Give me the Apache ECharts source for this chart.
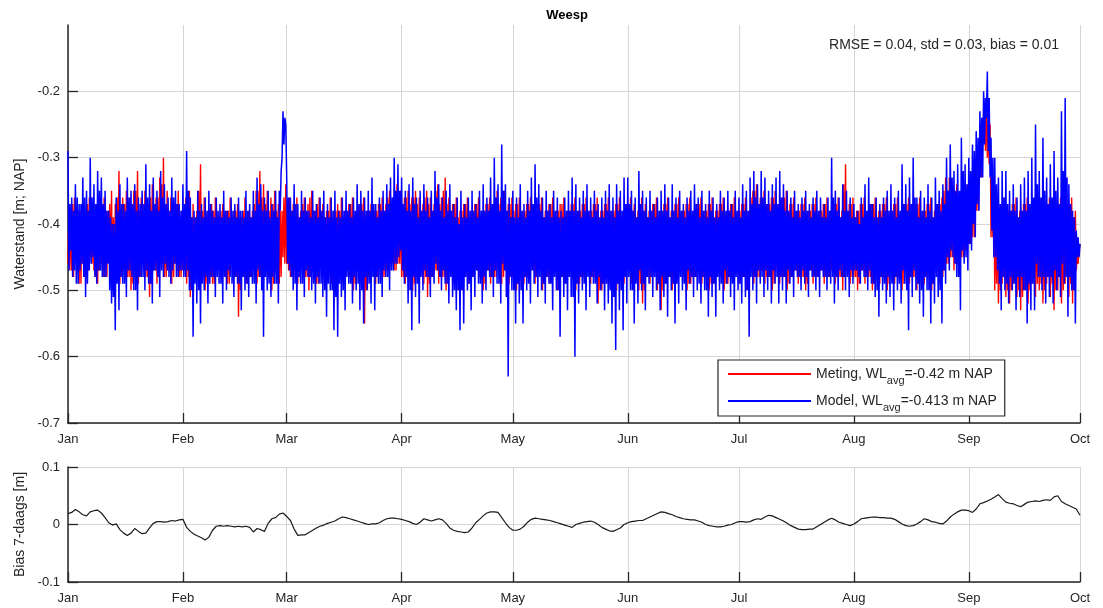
<!DOCTYPE html>
<html><head><meta charset="utf-8">
<script src="https://cdn.jsdelivr.net/npm/echarts@6/dist/echarts.min.js"></script>
<style>html,body{margin:0;padding:0;background:#fff}#c{width:1103px;height:608px}</style>
</head><body><div id="c"></div>
<script>
// ---------- data ----------
const monthLabels = ['Jan','Feb','Mar','Apr','May','Jun','Jul','Aug','Sep','Oct'];
const monthStartDays = [0,31,59,90,120,151,181,212,243,273];
const samplesPerDay = 4;           // water levels: four readings per day
const waterTicks = [-0.7,-0.6,-0.5,-0.4,-0.3,-0.2];
const biasTicks = [-0.1,0,0.1];
const metingAvg = -0.42;
const modelAvg = -0.413;
const statRMSE = '0.04', statStd = '0.03', statBias = '0.01';

// Meting (measured) water level, cm NAP: daily low / high readings
const metingCm = [
-46,-38,-47,-36,-45,-38,-49,-37,-46,-39,-48,-36,-45,-38,-47,-37,-49,-39,-46,-36,
-48,-38,-45,-35,-50,-37,-47,-32,-49,-36,-46,-35,-48,-36,-50,-35,-47,-32,-49,-36,
-46,-35,-48,-37,-51,-34,-47,-36,-49,-33,-46,-30,-48,-35,-47,-36,-49,-37,-46,-35,
-48,-38,-47,-36,-49,-35,-51,-37,-48,-38,-46,-31,-48,-36,-50,-38,-47,-37,-49,-36,
-46,-39,-48,-37,-47,-38,-49,-36,-46,-38,-48,-37,-54,-39,-47,-36,-49,-38,-48,-38,
-47,-35,-49,-32,-48,-34,-46,-35,-48,-36,-50,-35,-47,-37,-49,-38,-45,-34,-46,-36,
-48,-37,-47,-36,-49,-38,-46,-36,-48,-37,-50,-35,-47,-38,-49,-36,-46,-37,-48,-38,
-47,-36,-49,-38,-48,-37,-47,-36,-49,-38,-46,-37,-48,-36,-50,-38,-47,-37,-49,-36,
-55,-38,-48,-37,-47,-38,-49,-37,-46,-36,-48,-37,-47,-35,-45,-36,-47,-34,-46,-35,
-48,-36,-49,-35,-47,-36,-50,-35,-48,-36,-47,-37,-49,-35,-51,-36,-48,-37,-47,-34,
-49,-36,-48,-33,-50,-36,-47,-37,-49,-36,-48,-38,-50,-37,-47,-36,-49,-38,-48,-37,
-46,-36,-48,-38,-50,-37,-47,-36,-49,-37,-48,-35,-46,-36,-49,-35,-47,-37,-49,-36,
-48,-37,-50,-36,-47,-38,-49,-37,-48,-36,-46,-38,-49,-37,-47,-36,-50,-38,-48,-37,
-49,-36,-47,-38,-50,-37,-48,-36,-49,-38,-47,-37,-48,-36,-50,-38,-49,-37,-48,-36,
-47,-38,-49,-37,-48,-36,-52,-38,-50,-37,-48,-36,-49,-38,-47,-37,-50,-36,-48,-38,
-49,-37,-47,-36,-49,-37,-48,-38,-50,-36,-52,-37,-48,-38,-49,-37,-47,-36,-50,-38,
-53,-37,-49,-36,-48,-38,-50,-37,-49,-36,-47,-38,-48,-37,-50,-36,-49,-38,-48,-37,
-47,-36,-49,-38,-48,-37,-50,-36,-49,-38,-47,-37,-48,-36,-50,-38,-49,-37,-48,-36,
-47,-38,-49,-37,-48,-36,-50,-38,-47,-35,-49,-34,-48,-36,-47,-35,-49,-37,-48,-36,
-50,-35,-47,-37,-49,-36,-48,-35,-50,-37,-48,-36,-47,-38,-49,-37,-48,-36,-50,-38,
-47,-37,-49,-36,-48,-38,-47,-37,-49,-36,-48,-38,-47,-37,-49,-36,-48,-38,-50,-31,
-47,-37,-49,-36,-48,-38,-50,-37,-47,-36,-49,-38,-48,-37,-50,-36,-47,-38,-49,-37,
-48,-36,-50,-38,-47,-37,-49,-36,-48,-38,-50,-37,-47,-36,-49,-38,-48,-37,-50,-36,
-47,-38,-49,-37,-48,-36,-50,-38,-47,-37,-49,-36,-48,-33,-46,-33,-45,-35,-47,-34,
-46,-36,-45,-35,-44,-34,-43,-33,-42,-31,-38,-28,-33,-24,-28,-21,-30,-25,-42,-33,
-50,-38,-52,-37,-49,-36,-51,-38,-52,-37,-49,-36,-51,-38,-53,-37,-50,-36,-52,-38,
-49,-37,-51,-36,-50,-38,-52,-37,-49,-36,-51,-38,-53,-37,-50,-36,-52,-38,-49,-37,
-51,-36,-52,-38,-47,-44,-43
];
// Meting: intermediate readings inside the dense band (high, low per day)
const metingMidCm = [
-38,-47,-37,-48,-39,-47,-38,-49,-39,-48,-37,-47,-38,-46,-39,-48,-38,-47,-37,-48,
-38,-48,-37,-47,-39,-49,-36,-47,-38,-48,-37,-47,-38,-48,-37,-49,-35,-47,-38,-48,
-37,-47,-38,-48,-36,-49,-38,-47,-36,-48,-34,-46,-37,-48,-38,-47,-38,-48,-37,-47,
-39,-48,-38,-47,-37,-48,-39,-49,-39,-48,-35,-47,-38,-48,-39,-49,-38,-48,-38,-49,
-39,-47,-38,-48,-39,-48,-38,-49,-39,-47,-38,-48,-40,-50,-38,-48,-39,-49,-39,-48,
-37,-47,-35,-48,-36,-47,-37,-46,-38,-48,-37,-49,-38,-47,-38,-48,-36,-46,-37,-47,
-38,-48,-37,-47,-39,-48,-37,-47,-38,-48,-36,-48,-38,-47,-37,-49,-38,-47,-39,-48,
-38,-47,-39,-48,-38,-48,-38,-47,-39,-49,-38,-47,-37,-48,-39,-49,-38,-48,-37,-49,
-39,-50,-38,-48,-39,-47,-38,-48,-37,-47,-38,-48,-36,-47,-37,-46,-35,-47,-36,-46,
-37,-48,-36,-48,-37,-47,-36,-49,-37,-48,-38,-47,-36,-48,-37,-49,-38,-48,-35,-47,
-37,-48,-35,-48,-37,-49,-38,-47,-37,-48,-39,-48,-38,-49,-37,-47,-39,-48,-38,-48,
-37,-47,-39,-48,-38,-49,-37,-47,-38,-48,-36,-48,-37,-47,-36,-48,-38,-47,-37,-48,
-38,-48,-37,-49,-39,-47,-38,-48,-37,-48,-39,-47,-38,-48,-37,-47,-39,-49,-38,-48,
-37,-48,-39,-47,-38,-49,-37,-48,-39,-48,-38,-47,-37,-48,-39,-49,-38,-48,-37,-48,
-39,-47,-38,-48,-37,-48,-39,-50,-38,-49,-37,-48,-39,-48,-38,-47,-37,-49,-39,-48,
-38,-48,-37,-47,-38,-48,-39,-48,-37,-49,-38,-50,-39,-48,-38,-48,-37,-47,-39,-49,
-38,-50,-37,-48,-39,-48,-38,-49,-37,-48,-39,-47,-38,-48,-37,-49,-39,-48,-38,-48,
-37,-47,-39,-48,-38,-48,-37,-49,-39,-48,-38,-47,-37,-48,-39,-49,-38,-48,-37,-48,
-39,-47,-38,-48,-37,-48,-39,-49,-36,-47,-35,-48,-37,-48,-36,-47,-38,-48,-37,-48,
-36,-49,-38,-47,-37,-48,-36,-48,-38,-49,-37,-48,-39,-47,-38,-48,-37,-48,-39,-49,
-38,-47,-37,-48,-39,-48,-38,-47,-37,-48,-39,-48,-38,-47,-37,-48,-39,-48,-34,-48,
-38,-47,-37,-48,-39,-48,-38,-49,-37,-47,-39,-48,-38,-48,-37,-49,-39,-47,-38,-48,
-37,-48,-39,-49,-38,-47,-37,-48,-39,-48,-38,-49,-37,-47,-39,-48,-38,-48,-37,-49,
-39,-47,-38,-48,-37,-48,-39,-49,-38,-47,-37,-48,-35,-47,-35,-46,-36,-45,-35,-46,
-37,-46,-36,-45,-35,-44,-34,-43,-32,-42,-29,-38,-25,-33,-22,-29,-25,-31,-34,-42,
-39,-49,-38,-50,-37,-48,-39,-50,-38,-50,-37,-48,-39,-50,-38,-51,-37,-49,-39,-50,
-38,-48,-37,-49,-39,-49,-38,-50,-37,-48,-39,-49,-38,-50,-37,-48,-39,-50,-38,-48,
-37,-49,-39,-50,-45,-46
];

// Model water level, cm NAP: daily high / low readings
const modelCm = [
-29,-44,-36,-47,-34,-49,-37,-46,-33,-51,-35,-47,-30,-45,-34,-49,-32,-47,-33,-48,
-35,-46,-38,-52,-40,-56,-36,-53,-34,-49,-37,-51,-33,-47,-35,-50,-34,-53,-36,-48,
-35,-50,-31,-49,-34,-52,-33,-47,-35,-51,-32,-48,-34,-47,-36,-49,-33,-46,-35,-48,
-37,-47,-34,-48,-29,-50,-36,-57,-38,-52,-35,-55,-37,-50,-36,-52,-35,-48,-38,-51,
-36,-49,-37,-52,-35,-50,-38,-48,-36,-51,-37,-49,-36,-53,-38,-50,-35,-51,-37,-49,
-35,-52,-33,-48,-34,-57,-36,-50,-35,-51,-37,-49,-35,-52,-35,-30,-23,-25,-33,-47,
-36,-50,-34,-53,-37,-49,-35,-51,-36,-48,-38,-50,-35,-52,-37,-49,-36,-51,-35,-54,
-37,-50,-36,-56,-35,-57,-38,-51,-36,-53,-35,-49,-37,-52,-36,-50,-34,-53,-35,-55,
-36,-50,-35,-52,-33,-53,-37,-49,-36,-51,-35,-48,-34,-50,-33,-47,-30,-46,-31,-44,
-33,-49,-35,-52,-34,-56,-33,-51,-36,-55,-35,-50,-34,-48,-36,-51,-35,-49,-32,-47,
-34,-50,-36,-49,-35,-52,-34,-51,-37,-53,-36,-56,-35,-55,-37,-50,-36,-53,-35,-51,
-37,-49,-35,-52,-34,-50,-36,-48,-33,-51,-30,-49,-34,-52,-28,-47,-34,-63,-36,-50,
-35,-55,-36,-52,-34,-55,-37,-50,-35,-52,-33,-49,-31,-51,-34,-50,-36,-52,-35,-49,
-37,-53,-35,-50,-36,-57,-38,-51,-36,-53,-35,-51,-33,-60,-34,-52,-36,-50,-35,-53,
-34,-51,-36,-49,-35,-52,-37,-50,-36,-53,-35,-52,-34,-55,-36,-59,-34,-53,-35,-56,
-33,-52,-33,-50,-35,-55,-36,-52,-32,-50,-35,-53,-36,-49,-35,-51,-37,-50,-36,-53,
-35,-51,-34,-54,-36,-50,-34,-55,-36,-52,-35,-50,-37,-53,-36,-49,-35,-51,-34,-50,
-36,-52,-35,-50,-37,-54,-35,-51,-36,-54,-37,-50,-35,-52,-36,-49,-35,-51,-37,-53,
-35,-50,-36,-52,-34,-51,-35,-57,-33,-50,-32,-52,-34,-49,-32,-51,-33,-50,-35,-52,
-34,-49,-33,-52,-32,-50,-34,-52,-35,-49,-36,-51,-35,-48,-37,-50,-36,-49,-35,-51,
-37,-48,-36,-50,-35,-51,-36,-48,-37,-50,-36,-49,-30,-52,-35,-50,-36,-48,-34,-50,
-35,-51,-36,-49,-37,-47,-38,-49,-36,-48,-34,-50,-33,-49,-37,-51,-36,-54,-37,-50,
-36,-52,-35,-51,-34,-53,-36,-50,-35,-52,-31,-49,-34,-56,-33,-51,-30,-50,-36,-52,
-35,-54,-36,-50,-34,-55,-36,-52,-33,-51,-35,-55,-34,-49,-30,-47,-28,-45,-32,-48,
-31,-53,-27,-46,-31,-47,-30,-44,-28,-42,-26,-38,-23,-33,-20,-24,-17,-33,-27,-45,
-30,-47,-33,-53,-32,-50,-32,-52,-35,-50,-34,-53,-36,-51,-34,-50,-33,-55,-32,-53,
-30,-53,-25,-48,-32,-50,-27,-52,-33,-51,-31,-52,-29,-50,-33,-51,-23,-49,-21,-54,
-34,-50,-38,-55,-41,-45,-43
];
// Model: intermediate readings inside the dense band (low, high per day)
const modelMidCm = [
-47,-37,-48,-38,-49,-36,-47,-37,-48,-36,-49,-38,-46,-36,-48,-37,-47,-35,-48,-37,
-48,-38,-50,-39,-51,-40,-49,-38,-48,-37,-49,-38,-47,-36,-48,-37,-50,-38,-48,-37,
-48,-37,-47,-36,-49,-38,-47,-37,-48,-38,-47,-36,-46,-37,-48,-38,-47,-36,-48,-37,
-47,-38,-48,-37,-47,-35,-50,-39,-49,-39,-50,-38,-49,-39,-48,-38,-49,-37,-48,-39,
-48,-38,-49,-39,-48,-38,-47,-39,-49,-38,-48,-39,-49,-38,-48,-39,-49,-38,-48,-39,
-49,-38,-47,-37,-50,-38,-48,-38,-49,-39,-48,-38,-49,-39,-38,-32,-28,-24,-46,-36,
-48,-38,-49,-37,-48,-39,-49,-38,-47,-38,-48,-39,-49,-38,-48,-39,-49,-38,-50,-39,
-49,-39,-50,-38,-51,-39,-49,-39,-50,-38,-48,-38,-49,-39,-48,-38,-49,-37,-50,-38,
-48,-38,-49,-38,-48,-37,-48,-39,-49,-38,-47,-38,-48,-37,-47,-36,-46,-35,-45,-35,
-47,-37,-48,-38,-50,-38,-48,-37,-49,-39,-48,-38,-47,-38,-48,-39,-48,-38,-46,-36,
-48,-38,-47,-39,-49,-38,-48,-38,-50,-39,-50,-40,-50,-39,-48,-39,-49,-38,-48,-38,
-47,-39,-49,-38,-48,-38,-47,-38,-48,-37,-47,-36,-49,-38,-46,-35,-51,-38,-48,-39,
-50,-39,-49,-39,-50,-38,-48,-39,-49,-38,-47,-37,-48,-36,-48,-38,-49,-39,-48,-38,
-49,-39,-48,-38,-50,-39,-48,-39,-49,-38,-48,-38,-51,-38,-49,-38,-48,-39,-49,-38,
-48,-38,-48,-39,-49,-38,-48,-39,-49,-39,-49,-38,-50,-38,-51,-39,-49,-38,-50,-38,
-48,-37,-48,-37,-50,-38,-49,-39,-47,-37,-49,-38,-48,-39,-48,-38,-48,-39,-49,-38,
-48,-38,-49,-38,-48,-39,-49,-38,-49,-39,-48,-38,-49,-39,-47,-38,-48,-38,-48,-37,
-49,-39,-48,-38,-50,-39,-48,-38,-49,-39,-48,-39,-49,-38,-47,-38,-48,-38,-49,-39,
-48,-38,-49,-39,-48,-38,-50,-38,-48,-37,-48,-36,-47,-37,-48,-36,-47,-37,-48,-38,
-47,-37,-48,-37,-48,-36,-48,-38,-47,-38,-48,-39,-47,-38,-48,-39,-47,-38,-48,-38,
-47,-39,-48,-38,-48,-38,-47,-39,-48,-39,-48,-38,-48,-36,-48,-38,-47,-39,-48,-38,
-48,-38,-47,-39,-47,-39,-48,-40,-47,-39,-48,-38,-47,-37,-49,-39,-50,-39,-48,-39,
-49,-38,-48,-38,-49,-38,-48,-39,-49,-38,-47,-37,-50,-38,-48,-37,-47,-36,-49,-39,
-50,-38,-48,-39,-50,-38,-49,-39,-48,-37,-50,-38,-47,-37,-45,-35,-44,-33,-46,-35,
-48,-35,-44,-32,-45,-34,-43,-32,-40,-29,-37,-27,-33,-24,-28,-21,-29,-21,-41,-30,
-45,-34,-49,-37,-48,-36,-49,-37,-48,-38,-49,-38,-48,-39,-48,-38,-50,-38,-49,-37,
-49,-36,-46,-34,-48,-36,-48,-35,-48,-37,-48,-36,-47,-35,-48,-37,-46,-32,-48,-33,
-48,-37,-50,-39,-45,-42
];

// 7-day running bias, thousandths of a metre, one value per day
const bias7dMilli = [
19,21,26,22,17,15,22,24,25,20,
12,3,-1,1,-9,-15,-19,-15,-7,-12,
-16,-15,-6,2,5,5,4,5,7,6,
8,9,-5,-12,-17,-20,-23,-27,-22,-10,
-3,-2,-3,-2,-3,-4,-3,-4,-3,-5,
-13,-7,-9,-12,2,10,12,18,20,14,
7,-8,-19,-18,-18,-14,-10,-6,-3,-1,
2,4,6,10,13,12,10,8,6,4,
2,0,1,1,3,7,10,11,11,10,
9,7,5,2,0,4,10,8,6,8,
10,8,2,-6,-10,-12,-13,-14,-13,-6,
3,9,15,20,22,22,21,12,3,-5,
-10,-10,-8,-3,4,9,11,10,9,8,
7,5,3,1,-1,-3,-5,0,2,4,
5,6,4,0,-5,-8,-11,-12,-9,-6,
0,3,5,6,7,7,10,13,16,19,
22,21,19,17,14,12,10,9,8,8,
6,4,0,-2,-3,-4,-4,-3,-1,0,
3,5,5,4,5,8,10,9,13,16,
15,12,9,6,2,-2,-5,-8,-9,-9,
-8,-8,-4,0,4,8,11,8,4,2,
0,-2,1,5,10,11,12,13,13,12,
12,11,11,9,5,1,-2,-3,-2,1,
5,10,8,5,4,2,1,6,13,18,
22,25,25,24,21,27,36,38,41,44,
48,52,45,39,37,36,33,31,35,39,
40,41,40,42,43,42,48,50,40,36,
33,30,27,16
];

// ---------- chart ----------
const FONT = "'Liberation Sans', Arial, Helvetica, sans-serif";
const INK = '#262626';
const GRIDC = '#d6d6d6';

// merge per-day readings in time order: outer[0], mid[0], mid[1], outer[1]
function mergeReadings(outer, mid) {
  const out = [];
  const days = mid.length / 2;
  for (let d = 0; d < days; d++) out.push(outer[2 * d], mid[2 * d], mid[2 * d + 1], outer[2 * d + 1]);
  out.push(outer[2 * days]);
  return out;
}
const toSeries = (arr, perDay, scale) => arr.map((v, i) => [i / perDay, v / scale]);
const metingData = toSeries(mergeReadings(metingCm, metingMidCm), samplesPerDay, 100);
const modelData = toSeries(mergeReadings(modelCm, modelMidCm), samplesPerDay, 100);
const biasData = toSeries(bias7dMilli, 1, 1000);
const avgByName = { 'Meting': metingAvg, 'Model': modelAvg };

function xAxisCfg(gridIndex) {
  return {
    type: 'value', gridIndex, min: monthStartDays[0], max: monthStartDays[monthStartDays.length - 1],
    axisLine: { show: true, onZero: false, lineStyle: { color: INK, width: 1.5 } },
    axisTick: { show: true, inside: true, length: 10, customValues: monthStartDays, lineStyle: { color: INK, width: 1.3 } },
    axisLabel: { customValues: monthStartDays, formatter: v => monthLabels[monthStartDays.indexOf(v)],
      color: INK, fontSize: 13, fontFamily: FONT, margin: 10 },
    splitLine: { show: true, lineStyle: { color: GRIDC, width: 1 } }
  };
}
function yAxisCfg(gridIndex, min, max, ticks, name) {
  return {
    type: 'value', gridIndex, min, max,
    name, nameLocation: 'middle', nameGap: 40,
    nameTextStyle: { color: INK, fontSize: 14, fontFamily: FONT },
    axisLine: { show: true, onZero: false, lineStyle: { color: INK, width: 1.5 } },
    axisTick: { show: true, inside: true, length: 10, customValues: ticks, lineStyle: { color: INK, width: 1.3 } },
    axisLabel: { customValues: ticks, color: INK, fontSize: 13, fontFamily: FONT, margin: 8 },
    splitLine: { show: true, lineStyle: { color: GRIDC, width: 1 } }
  };
}

const chart = echarts.init(document.getElementById('c'), null, { renderer: 'canvas' });
chart.setOption({
  animation: false,
  backgroundColor: '#fff',
  textStyle: { fontFamily: FONT },
  grid: [
    { left: 68, top: 25, width: 1012, height: 398 },
    { left: 68, top: 467, width: 1012, height: 115 }
  ],
  xAxis: [xAxisCfg(0), xAxisCfg(1)],
  yAxis: [
    yAxisCfg(0, -0.7, -0.1, waterTicks, 'Waterstand [m; NAP]'),
    yAxisCfg(1, -0.1, 0.1, biasTicks, 'Bias 7-daags [m]')
  ],
  legend: {
    data: ['Meting', 'Model'],
    orient: 'vertical', left: 718, top: 360,
    selectedMode: false,
    backgroundColor: '#fff', borderColor: INK, borderWidth: 1.2,
    padding: [2, 8, 3, 10], itemGap: 3,
    icon: 'rect', itemWidth: 83, itemHeight: 2,
    formatter: name => name + ', WL{sub|avg}=' + avgByName[name] + ' m NAP',
    textStyle: { color: INK, fontSize: 14, fontFamily: FONT, lineHeight: 24,
      rich: { sub: { fontSize: 11, lineHeight: 12, verticalAlign: 'bottom', color: INK, fontFamily: FONT } } }
  },
  graphic: [
    { type: 'text', x: 567, y: 15, z: 100, style: { text: 'Weesp', align: 'center', verticalAlign: 'middle',
      font: 'bold 13px ' + FONT, fill: '#000' } },
    { type: 'text', x: 1059, y: 45, z: 100, style: { text: 'RMSE = ' + statRMSE + ', std = ' + statStd + ', bias = ' + statBias,
      align: 'right', verticalAlign: 'middle', font: '14px ' + FONT, fill: INK } }
  ],
  series: [
    { name: 'Meting', type: 'line', xAxisIndex: 0, yAxisIndex: 0, data: metingData, showSymbol: false, symbol: 'none',
      color: '#ff0000', lineStyle: { color: '#ff0000', width: 1.4 }, silent: true, z: 2 },
    { name: 'Model', type: 'line', xAxisIndex: 0, yAxisIndex: 0, data: modelData, showSymbol: false, symbol: 'none',
      color: '#0000ff', lineStyle: { color: '#0000ff', width: 1.5 }, silent: true, z: 3 },
    { name: 'Bias', type: 'line', xAxisIndex: 1, yAxisIndex: 1, data: biasData, showSymbol: false, symbol: 'none',
      color: '#1a1a1a', lineStyle: { color: '#1a1a1a', width: 1.2 }, silent: true }
  ]
});
</script>
</body></html>
